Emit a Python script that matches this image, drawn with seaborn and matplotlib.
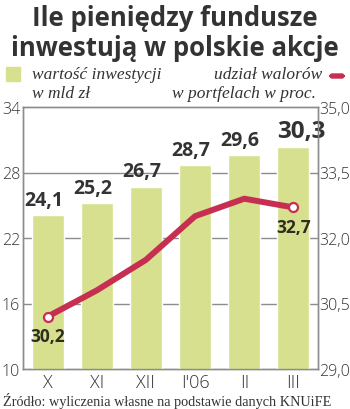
import matplotlib
matplotlib.use("Agg")
import matplotlib.pyplot as plt
import seaborn as sns
import pandas as pd
from matplotlib.ticker import FuncFormatter
from matplotlib.patches import FancyBboxPatch, Rectangle

categories = ["X", "XI", "XII", "I'06", "II", "III"]
investment = [24.1, 25.2, 26.7, 28.7, 29.6, 30.3]
share = [30.2, 30.8, 31.5, 32.5, 32.9, 32.7]
left_ticks = [10, 16, 22, 28, 34]
right_ticks = [29.0, 30.5, 32.0, 33.5, 35.0]

BAR = "#d6e08e"
RED = "#c72f52"
DARK = "#333333"
GRID = "#8c8c8c"

sns.set_theme(style="white")
plt.rcParams["font.family"] = ["Open Sans", "DejaVu Sans"]

df = pd.DataFrame({"cat": categories, "inv": investment, "share": share})

fig = plt.figure(figsize=(3.5, 4.1), dpi=100)
ax = fig.add_axes([23/350, 40/410, 295/350, 262/410])
ax2 = ax.twinx()

sns.barplot(data=df, x="cat", y="inv", color=BAR, width=0.65, ax=ax,
            saturation=1, zorder=3)
ax.set_xlim(-0.5, 5.5)
ax.set_ylim(10, 34)
ax.set_yticks(left_ticks)
ax.set_xlabel("")
ax.set_ylabel("")
for t in left_ticks[1:-1]:
    ax.axhline(t, color=GRID, lw=1.0, zorder=1)
ax.tick_params(axis="y", length=0, pad=2, labelsize=11.5, labelcolor=DARK)
ax.tick_params(axis="x", length=0, pad=3, labelsize=13, labelcolor=DARK)
for lab in ax.get_xticklabels() + ax.get_yticklabels():
    lab.set_fontweight("light")

sns.lineplot(x=list(range(len(categories))), y=share, ax=ax2, color=RED,
             lw=4.3, zorder=4, solid_capstyle="round", solid_joinstyle="round")
ax2.plot([0, len(share) - 1], [share[0], share[-1]], ls="none", marker="o",
         ms=6.5, mfc="white", mec=RED, mew=1.6, zorder=5)
ax2.set_ylim(29, 35)
ax2.set_yticks(right_ticks)
ax2.yaxis.set_major_formatter(FuncFormatter(lambda v, p: f"{v:.1f}".replace(".", ",")))
ax2.tick_params(axis="y", length=0, pad=1, labelsize=11.5, labelcolor=DARK)
for lab in ax2.get_yticklabels():
    lab.set_fontweight("light")
ax2.set_ylabel("")
ax.set_zorder(ax2.get_zorder() - 1)
ax.patch.set_visible(True)
ax2.patch.set_visible(False)

for a in (ax, ax2):
    for s in a.spines.values():
        s.set_color(GRID)
        s.set_linewidth(1.0)

# bar value labels
for i, v in enumerate(investment):
    big = i == len(investment) - 1
    ax.annotate(f"{v:.1f}".replace(".", ","), (i, v),
                xytext=(6 if big else -3, 12 if big else 11), textcoords="offset points",
                ha="center", va="center", fontsize=17.5 if big else 14,
                fontweight="bold", color=DARK, zorder=6, annotation_clip=False)

# line value labels
for i in (0, len(share) - 1):
    ax2.annotate(f"{share[i]:.1f}".replace(".", ","), (i, share[i]),
                 xytext=(0, -14), textcoords="offset points", ha="center",
                 va="center", fontsize=12.5, fontweight="bold",
                 color="#2e2e20", zorder=6)

# title
fig.text(0.5, 1 - 19/410, "Ile pieniędzy fundusze", ha="center", va="center",
         fontsize=18.5, fontweight="bold", color=DARK)
fig.text(0.5, 1 - 48/410, "inwestują w polskie akcje", ha="center", va="center",
         fontsize=18.5, fontweight="bold", color=DARK)

# legend
fig.patches.append(Rectangle((6/350, 1 - 82/410), 14/350, 14/410,
                             transform=fig.transFigure, color=BAR))
serif = ["Liberation Serif", "DejaVu Serif"]
fs = 12.5
fig.text(32/350, 1 - 75/410, "wartość inwestycji", ha="left", va="center",
         fontsize=fs, style="italic", family=serif, color=DARK)
fig.text(32/350, 1 - 94/410, "w mld zł", ha="left", va="center",
         fontsize=fs, style="italic", family=serif, color=DARK)
fig.text(322/350, 1 - 75/410, "udział walorów", ha="right", va="center",
         fontsize=fs, style="italic", family=serif, color=DARK)
fig.text(316/350, 1 - 94/410, "w portfelach w proc.", ha="right", va="center",
         fontsize=fs, style="italic", family=serif, color=DARK)
fig.patches.append(FancyBboxPatch((330/350, 1 - 79/410), 14/350, 4/410,
                                  boxstyle="round,pad=0,rounding_size=0.006",
                                  transform=fig.transFigure, color=RED))

fig.text(3/350, 1 - 401/410, "Źródło: wyliczenia własne na podstawie danych KNUiFE",
         ha="left", va="center", fontsize=10.3, family=serif, color=DARK)

fig.savefig("out.png", dpi=100, facecolor="white")
